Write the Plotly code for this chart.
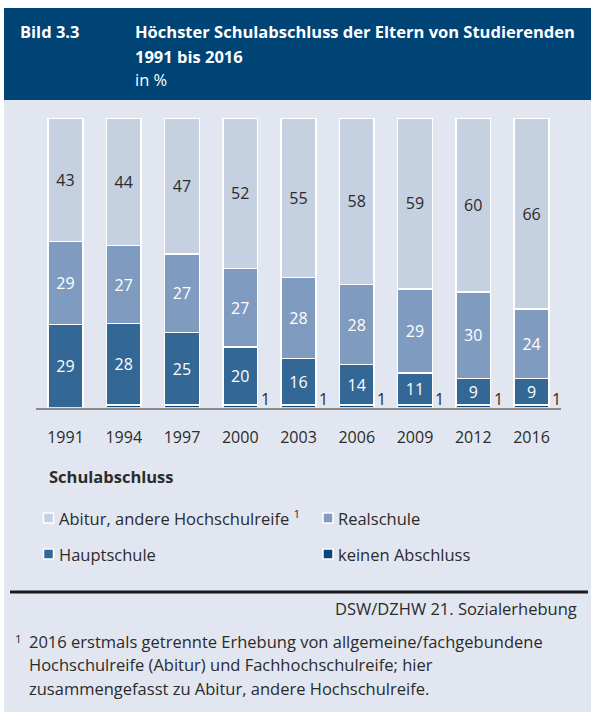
import plotly.graph_objects as go

# ---- data ----
years = ["1991", "1994", "1997", "2000", "2003", "2006", "2009", "2012", "2016"]
keinen = [0, 1, 1, 1, 1, 1, 1, 1, 1]
keinen_labels = ["", "", "", "1", "1", "1", "1", "1", "1"]
hauptschule = [29, 28, 25, 20, 16, 14, 11, 9, 9]
realschule = [29, 27, 27, 27, 28, 28, 29, 30, 24]
abitur = [43, 44, 47, 52, 55, 58, 59, 60, 66]

series_names = ["Abitur, andere Hochschulreife", "Realschule", "Hauptschule", "keinen Abschluss"]
legend_title = "Schulabschluss"
title_tag = "Bild 3.3"
title_lines = ["Höchster Schulabschluss der Eltern von Studierenden", "1991 bis 2016"]
subtitle = "in %"
source = "DSW/DZHW 21. Sozialerhebung"
footnote_lines = [
    "2016 erstmals getrennte Erhebung von allgemeine/fachgebundene",
    "Hochschulreife (Abitur) und Fachhochschulreife; hier",
    "zusammengefasst zu Abitur, andere Hochschulreife.",
]

# ---- style ----
W, H = 594, 715
FONT = "Open Sans"
TS = 16.5  # text size for header / legend / footer
C_ABI = "#c5d0e0"
C_REAL = "#7f9bbf"
C_HAUPT = "#336796"
C_KEIN = "#0a4677"
C_BG = "#e1e6f0"
C_HEAD = "#004476"
C_TEXT = "#2b2b2b"


def px(x):
    return x / W


def py(y):
    return 1 - y / H


x_idx = list(range(len(years)))

fig = go.Figure()
traces = [
    ("keinen Abschluss", keinen, C_KEIN, None, "white"),
    ("Hauptschule", hauptschule, C_HAUPT, [str(v) for v in hauptschule], "white"),
    ("Realschule", realschule, C_REAL, [str(v) for v in realschule], "white"),
    ("Abitur, andere Hochschulreife", abitur, C_ABI, [str(v) for v in abitur], C_TEXT),
]
for name, vals, col, txt, tcol in traces:
    bar = dict(
        x=x_idx, y=vals, name=name, width=0.6,
        marker=dict(color=col, line=dict(color="white", width=1.5)),
        hoverinfo="skip", showlegend=False,
    )
    if txt:
        bar.update(text=txt, textposition="inside", insidetextanchor="middle", textangle=0,
                   constraintext="none",
                   textfont=dict(family=FONT, size=16, color=tcol))
    else:
        bar.update(textposition="none")
    fig.add_trace(go.Bar(**bar))

annotations = []
# small "1" labels for keinen Abschluss
for i, lab in enumerate(keinen_labels):
    if lab:
        annotations.append(dict(
            x=i + 0.3, y=0, xref="x", yref="y", text=lab, showarrow=False,
            xanchor="left", yanchor="middle", xshift=1, yshift=9,
            font=dict(family=FONT, size=16, color=C_TEXT)))

# header
annotations.append(dict(x=px(18), y=py(32), xref="paper", yref="paper", text="<b>" + title_tag + "</b>",
                        showarrow=False, xanchor="left", yanchor="middle",
                        font=dict(family=FONT, size=TS, color="white")))
for j, line in enumerate(title_lines):
    annotations.append(dict(x=px(133), y=py(32 + 24 * j), xref="paper", yref="paper", text="<b>" + line + "</b>",
                            showarrow=False, xanchor="left", yanchor="middle",
                            font=dict(family=FONT, size=TS, color="white")))
annotations.append(dict(x=px(133), y=py(79), xref="paper", yref="paper", text=subtitle,
                        showarrow=False, xanchor="left", yanchor="middle",
                        font=dict(family=FONT, size=TS, color="#ffffff")))

# legend (manual)
annotations.append(dict(x=px(47), y=py(476), xref="paper", yref="paper", text="<b>" + legend_title + "</b>",
                        showarrow=False, xanchor="left", yanchor="middle",
                        font=dict(family=FONT, size=TS, color=C_TEXT)))
leg_cols = {series_names[0]: C_ABI, series_names[1]: C_REAL, series_names[2]: C_HAUPT, series_names[3]: C_KEIN}
leg_pos = [(48.5, 518), (328, 518), (48.5, 554), (328, 554)]
shapes = []
# background panels
shapes.append(dict(type="rect", xref="paper", yref="paper", x0=px(4), x1=px(591), y0=py(100), y1=py(712),
                   fillcolor=C_BG, line=dict(width=0), layer="below"))
shapes.append(dict(type="rect", xref="paper", yref="paper", x0=px(4), x1=px(591), y0=py(8), y1=py(100),
                   fillcolor=C_HEAD, line=dict(width=0), layer="below"))
for k, name in enumerate(series_names):
    cx, cy = leg_pos[k]
    shapes.append(dict(type="rect", xref="paper", yref="paper", x0=px(cx - 5), x1=px(cx + 5),
                       y0=py(cy - 5), y1=py(cy + 5), fillcolor=leg_cols[name],
                       line=dict(color="white", width=1.5)))
    label = name + (" <sup>1</sup>" if k == 0 else "")
    annotations.append(dict(x=px(cx + 8), y=py(cy), xref="paper", yref="paper", text=label,
                            showarrow=False, xanchor="left", yanchor="middle",
                            font=dict(family=FONT, size=TS, color=C_TEXT)))

# footer
shapes.append(dict(type="line", xref="paper", yref="paper", x0=px(10), x1=px(588), y0=py(592), y1=py(592),
                   line=dict(color="#1a1a1a", width=3)))
annotations.append(dict(x=px(579), y=py(608), xref="paper", yref="paper", text=source,
                        showarrow=False, xanchor="right", yanchor="middle",
                        font=dict(family=FONT, size=TS, color=C_TEXT)))
annotations.append(dict(x=px(13), y=py(638), xref="paper", yref="paper", text="<sup>1</sup>",
                        showarrow=False, xanchor="left", yanchor="middle",
                        font=dict(family=FONT, size=TS, color=C_TEXT)))
for j, line in enumerate(footnote_lines):
    annotations.append(dict(x=px(27), y=py(641 + 23.5 * j), xref="paper", yref="paper", text=line,
                            showarrow=False, xanchor="left", yanchor="middle",
                            font=dict(family=FONT, size=TS, color=C_TEXT)))

fig.update_layout(
    width=W, height=H, barmode="stack", barnorm="percent",
    margin=dict(l=0, r=0, t=0, b=0, autoexpand=False),
    paper_bgcolor="white", plot_bgcolor="rgba(0,0,0,0)",
    font=dict(family=FONT, size=16, color=C_TEXT),
    showlegend=False, bargap=0.4,
    uniformtext=dict(mode="show", minsize=16),
    xaxis=dict(domain=[px(36), px(561)], range=[-0.506, 8.506],
               tickmode="array", tickvals=x_idx, ticktext=years,
               showline=True, linecolor="#8a8a8a", linewidth=2,
               ticks="outside", ticklen=14, tickcolor="rgba(0,0,0,0)",
               showgrid=False, zeroline=False, fixedrange=True,
               tickfont=dict(family=FONT, size=16, color=C_TEXT)),
    yaxis=dict(domain=[py(407.7), py(118)], range=[0, 100], visible=False,
               showgrid=False, zeroline=False, fixedrange=True),
    annotations=annotations, shapes=shapes,
)

fig.write_html(
    "out.html",
    config={"displayModeBar": False},
    post_script="document.body.style.margin='0';document.body.style.padding='0';",
)
